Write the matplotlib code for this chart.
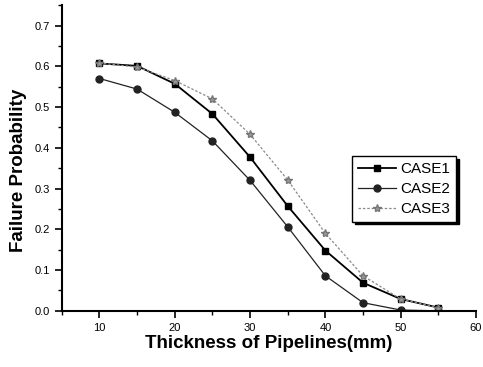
import matplotlib
matplotlib.use("Agg")
import matplotlib.pyplot as plt
from matplotlib.ticker import MultipleLocator

plt.rcParams['font.family'] = ['Liberation Sans', 'DejaVu Sans']

thickness = [10, 15, 20, 25, 30, 35, 40, 45, 50, 55]
case1 = [0.607, 0.601, 0.557, 0.483, 0.377, 0.257, 0.148, 0.069, 0.029, 0.008]
case2 = [0.570, 0.544, 0.487, 0.417, 0.320, 0.206, 0.086, 0.020, 0.002, 0.000]
case3 = [0.608, 0.598, 0.565, 0.520, 0.433, 0.321, 0.190, 0.086, 0.029, 0.008]
labels = ["CASE1", "CASE2", "CASE3"]

fig = plt.figure(figsize=(4.83, 3.67), dpi=100)
ax = fig.add_axes([0.128, 0.153, 0.8575, 0.833])

ax.plot(thickness, case1, color='black', lw=1.3, marker='s', ms=5, label=labels[0])
ax.plot(thickness, case2, color='#222222', lw=0.9, marker='o', ms=5, label=labels[1])
ax.plot(thickness, case3, color='#8a8a8a', lw=0.9, ls=(0, (2, 1.5)), marker='*', ms=6,
        mfc='#9a9a9a', mec='#777777', label=labels[2])

ax.set_xlim(5, 60)
ax.set_ylim(0, 0.75)
ax.xaxis.set_minor_locator(MultipleLocator(5))
ax.yaxis.set_minor_locator(MultipleLocator(0.05))
ax.set_xticks([10, 20, 30, 40, 50, 60])
ax.set_yticks([0.0, 0.1, 0.2, 0.3, 0.4, 0.5, 0.6, 0.7])
ax.set_yticklabels(["0.0", "0.1", "0.2", "0.3", "0.4", "0.5", "0.6", "0.7"])

for s in ['top', 'right']:
    ax.spines[s].set_visible(False)
for s in ['left', 'bottom']:
    ax.spines[s].set_linewidth(1.5)

ax.tick_params(which='major', direction='out', length=5, width=1.2, labelsize=8, pad=3.5)
ax.tick_params(which='minor', direction='out', length=3, width=1.0)

ax.set_xlabel("Thickness of Pipelines(mm)", fontsize=13.5, fontweight='bold', labelpad=1.5)
ax.set_ylabel("Failure Probability", fontsize=13.5, fontweight='bold')
ax.yaxis.set_label_coords(-0.085, 0.46)

leg = ax.legend(loc='upper left', bbox_to_anchor=(0.70, 0.505), borderaxespad=0,
                fontsize=11, fancybox=False, edgecolor='black', framealpha=1,
                shadow={'color': 'black', 'alpha': 1}, handlelength=2.5,
                handletextpad=0.3, labelspacing=0.38, borderpad=0.38)
leg.get_frame().set_linewidth(1.0)

fig.savefig("out.png", dpi=100)
